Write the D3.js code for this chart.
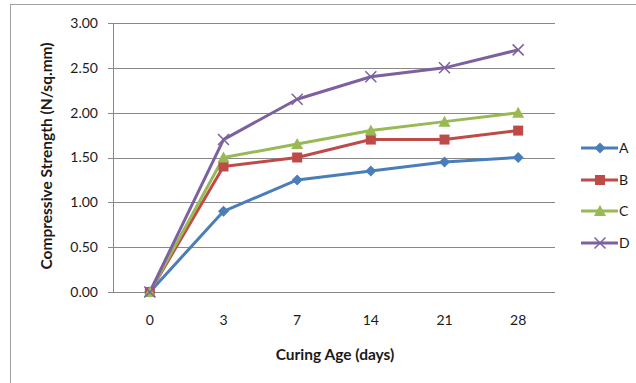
<!DOCTYPE html>
<html>
<head>
<meta charset="utf-8">
<script src="https://cdn.jsdelivr.net/npm/d3@7"></script>
<style>
  body { margin: 0; background: #fff; }
  text { font-family: Lato, "Open Sans", sans-serif; fill: #1a1a1a; }
</style>
</head>
<body>
<div id="chart"></div>
<script>
// curing ages (x categories) and strength per mix
var ages = ["0", "3", "7", "14", "21", "28"];
var seriesNames = ["A", "B", "C", "D"];
var valuesA = [0, 0.9, 1.25, 1.35, 1.45, 1.5];
var valuesB = [0, 1.4, 1.5, 1.7, 1.7, 1.8];
var valuesC = [0, 1.5, 1.65, 1.8, 1.9, 2.0];
var valuesD = [0, 1.7, 2.15, 2.4, 2.5, 2.7];
var yTicks = [0, 0.5, 1, 1.5, 2, 2.5, 3];

var colors = ["#4a7ebb", "#be4b48", "#98b954", "#7d60a0"];
var markers = ["diamond", "square", "triangle", "cross"];
var allValues = [valuesA, valuesB, valuesC, valuesD];

var w = 636, h = 383;
var svg = d3.select("#chart").append("svg")
  .attr("width", w)
  .attr("height", h);

// outer chart border
svg.append("rect")
  .attr("x", 10.5).attr("y", 4.5)
  .attr("width", w + 10).attr("height", h + 10)
  .attr("fill", "none")
  .attr("stroke", "#a0a0a0")
  .attr("stroke-width", 1);

var plotLeft = 113, plotRight = 555, plotTop = 23, plotBottom = 292;

var x = d3.scaleBand().domain(ages).range([plotLeft, plotRight]);
var y = d3.scaleLinear().domain([0, 3]).range([plotBottom, plotTop]);

// gridlines
svg.append("g").selectAll("line")
  .data(yTicks)
  .enter().append("line")
  .attr("x1", plotLeft - 5).attr("x2", plotRight)
  .attr("y1", d => Math.round(y(d)) + 0.5)
  .attr("y2", d => Math.round(y(d)) + 0.5)
  .attr("stroke", "#888")
  .attr("stroke-width", 1);

// y axis line
svg.append("line")
  .attr("x1", plotLeft + 0.5).attr("x2", plotLeft + 0.5)
  .attr("y1", plotTop).attr("y2", plotBottom)
  .attr("stroke", "#888");

// y tick labels
svg.append("g").selectAll("text")
  .data(yTicks)
  .enter().append("text")
  .attr("x", plotLeft - 15)
  .attr("y", d => y(d))
  .attr("dy", "0.35em")
  .attr("text-anchor", "end")
  .style("font-size", "14px")
  .text(d => d.toFixed(2));

// x tick labels
svg.append("g").selectAll("text")
  .data(ages)
  .enter().append("text")
  .attr("x", d => x(d) + x.bandwidth() / 2)
  .attr("y", 325)
  .attr("text-anchor", "middle")
  .style("font-size", "14px")
  .text(d => d);

// axis titles
svg.append("text")
  .attr("x", 335).attr("y", 360)
  .attr("text-anchor", "middle")
  .style("font-size", "15.5px")
  .style("font-weight", "bold")
  .text("Curing Age (days)");

svg.append("text")
  .attr("transform", "translate(52,156) rotate(-90)")
  .attr("text-anchor", "middle")
  .style("font-size", "15.5px")
  .style("font-weight", "bold")
  .text("Compressive Strength (N/sq.mm)");

function drawMarker(g, type, color) {
  if (type === "diamond") {
    g.append("path").attr("d", "M0,-5.5L5.5,0L0,5.5L-5.5,0Z").attr("fill", color);
  } else if (type === "square") {
    g.append("rect").attr("x", -5).attr("y", -5).attr("width", 10).attr("height", 10).attr("fill", color);
  } else if (type === "triangle") {
    g.append("path").attr("d", "M0,-6L6,5L-6,5Z").attr("fill", color);
  } else {
    g.append("path").attr("d", "M-5.5,-5.5L5.5,5.5M-5.5,5.5L5.5,-5.5")
      .attr("stroke", color).attr("stroke-width", 1.5).attr("fill", "none");
  }
}

var line = d3.line()
  .x((d, i) => x(ages[i]) + x.bandwidth() / 2)
  .y(d => y(d));

allValues.forEach(function (vals, s) {
  svg.append("path")
    .datum(vals)
    .attr("d", line)
    .attr("fill", "none")
    .attr("stroke", colors[s])
    .attr("stroke-width", 3)
    .attr("stroke-linejoin", "round");
});

allValues.forEach(function (vals, s) {
  vals.forEach(function (v, i) {
    var g = svg.append("g")
      .attr("transform", "translate(" + (x(ages[i]) + x.bandwidth() / 2) + "," + y(v) + ")");
    drawMarker(g, markers[s], colors[s]);
  });
});

// legend
var legendY = [148, 180, 211, 243];
seriesNames.forEach(function (name, s) {
  var g = svg.append("g").attr("transform", "translate(0," + legendY[s] + ")");
  g.append("line")
    .attr("x1", 581).attr("x2", 618)
    .attr("y1", 0).attr("y2", 0)
    .attr("stroke", colors[s]).attr("stroke-width", 3);
  var m = g.append("g").attr("transform", "translate(600,0)");
  drawMarker(m, markers[s], colors[s]);
  g.append("text")
    .attr("x", 619).attr("y", 0).attr("dy", "0.35em")
    .style("font-size", "14px")
    .text(name);
});
</script>
</body>
</html>
